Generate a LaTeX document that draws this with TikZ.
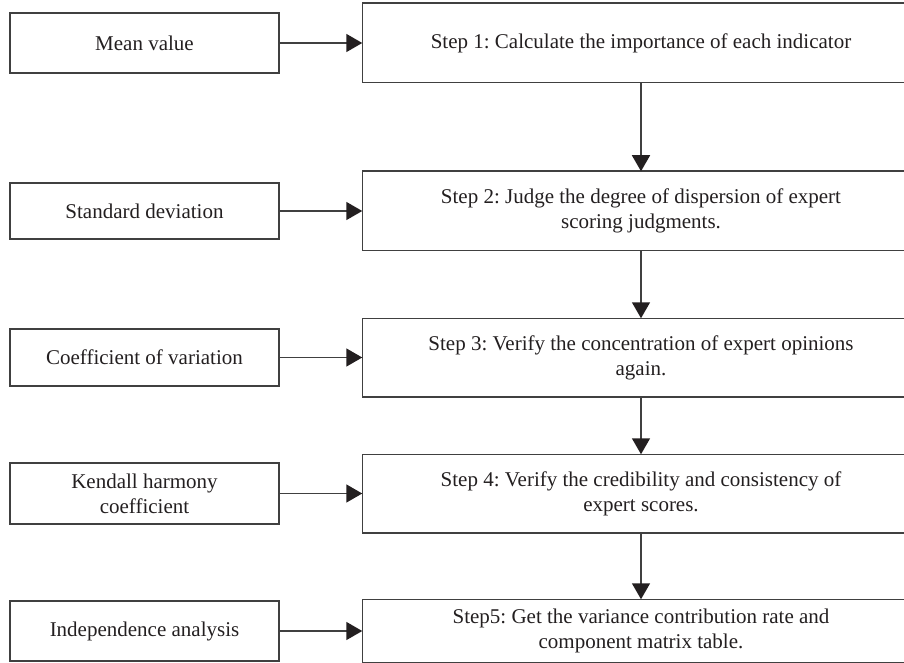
\documentclass[tikz,border=0pt]{standalone}
\usepackage{fontspec}
\setmainfont{Liberation Serif}
\usetikzlibrary{arrows.meta}
\definecolor{ink}{HTML}{231F20}
\definecolor{edgec}{HTML}{404040}
\frenchspacing
\begin{document}
\begin{tikzpicture}[x=0.5pt,y=-0.5pt,
  box/.style={draw=edgec,line width=0.75pt,inner sep=0pt,align=center,
    font=\fontsize{10.5}{12.5}\selectfont\frenchspacing,text=ink},
  lbox/.style={box,minimum width=134.5pt},
  rbox/.style={box,draw=none,minimum width=278pt},
  rim/.style={draw=edgec,line width=0.75pt},
  conn/.style={draw=edgec,line width=0.8pt,
    -{Triangle[length=8pt,width=9pt,fill=ink,color=ink]}}]
\useasboundingbox (0,0) rectangle (904,663);
% left boxes
\node[lbox,minimum height=30pt]   (m) at (144.5,43)    {Mean value};
\node[lbox,minimum height=28pt]   (sd) at (144.5,211)  {Standard deviation};
\node[lbox,minimum height=28.5pt] (cv) at (144.5,357.5){Coefficient of variation};
\node[lbox,minimum height=30.5pt] (kh) at (144.5,493.5){Kendall harmony\\coefficient};
\node[lbox,minimum height=30pt]   (ia) at (144.5,631)  {Independence analysis};
% right boxes (their right side lies beyond the picture's edge)
\node[rbox,minimum height=39pt]   (s1) at (641,43)     {Step 1: Calculate the importance of each indicator};
\node[rbox,minimum height=39pt]   (s2) at (641,211)    {Step 2: Judge the degree of dispersion of expert\\scoring judgments.};
\node[rbox,minimum height=38.5pt] (s3) at (641,357.5)  {Step 3: Verify the concentration of expert opinions\\again.};
\node[rbox,minimum height=38.5pt] (s4) at (641,493.5)  {Step 4: Verify the credibility and consistency of\\expert scores.};
\node[rbox,minimum height=31pt]   (s5) at (641,631)    {Step5: Get the variance contribution rate and\\component matrix table.};
\foreach \s in {s1,s2,s3,s4,s5}
  \draw[rim] (\s.north east) -- (\s.north west) -- (\s.south west) -- (\s.south east);
% connectors
\draw[conn] (m.east) -- (s1.west);
\draw[conn] (sd.east) -- (s2.west);
\draw[conn] (cv.east) -- (s3.west);
\draw[conn] (kh.east) -- (s4.west);
\draw[conn] (ia.east) -- (s5.west);
\draw[conn] (s1.south) -- (s2.north);
\draw[conn] (s2.south) -- (s3.north);
\draw[conn] (s3.south) -- (s4.north);
\draw[conn] (s4.south) -- (s5.north);
\end{tikzpicture}
\end{document}
